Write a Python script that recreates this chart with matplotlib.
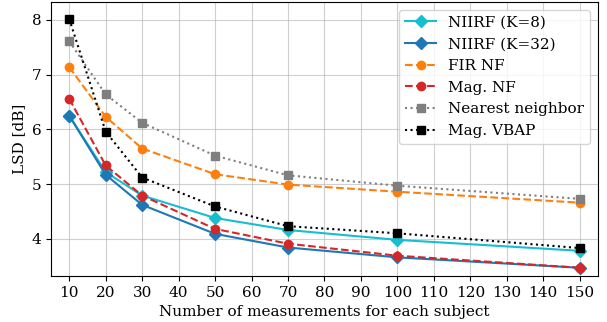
import matplotlib
matplotlib.use("Agg")
import matplotlib.pyplot as plt

plt.rcParams['font.family'] = ['DejaVu Serif']
plt.rcParams['font.size'] = 11

x = [10, 20, 30, 50, 70, 100, 150]
niirf8 = [6.25, 5.22, 4.79, 4.38, 4.16, 3.98, 3.78]
niirf32 = [6.25, 5.17, 4.62, 4.09, 3.84, 3.66, 3.47]
fir_nf = [7.14, 6.23, 5.65, 5.18, 4.99, 4.86, 4.66]
mag_nf = [6.56, 5.34, 4.79, 4.18, 3.91, 3.69, 3.47]
nearest = [7.61, 6.64, 6.12, 5.52, 5.16, 4.97, 4.73]
mag_vbap = [8.02, 5.96, 5.12, 4.59, 4.23, 4.10, 3.83]
xticks = list(range(10, 151, 10))

ms = 6
fig, ax = plt.subplots(figsize=(6.07, 3.22), dpi=100)
ax.plot(x, niirf8, '-D', color='tab:cyan', label='NIIRF (K=8)', markersize=ms)
ax.plot(x, niirf32, '-D', color='tab:blue', label='NIIRF (K=32)', markersize=ms)
ax.plot(x, fir_nf, '--o', color='tab:orange', label='FIR NF', markersize=ms)
ax.plot(x, mag_nf, '--o', color='tab:red', label='Mag. NF', markersize=ms)
ax.plot(x, nearest, ':s', color='tab:gray', label='Nearest neighbor', markersize=ms)
ax.plot(x, mag_vbap, ':s', color='black', label='Mag. VBAP', markersize=ms)

ax.set_xlim(5, 155)
ax.set_ylim(3.32, 8.33)
ax.set_xticks(xticks)
ax.set_yticks([4, 5, 6, 7, 8])
ax.grid(True, color='#b0b0b0', alpha=0.6)
ax.set_xlabel('Number of measurements for each subject')
ax.set_ylabel('LSD [dB]')
ax.legend(loc='upper right')
fig.subplots_adjust(left=0.084, right=0.985, top=0.994, bottom=0.143)
fig.savefig('out.png', dpi=100)
